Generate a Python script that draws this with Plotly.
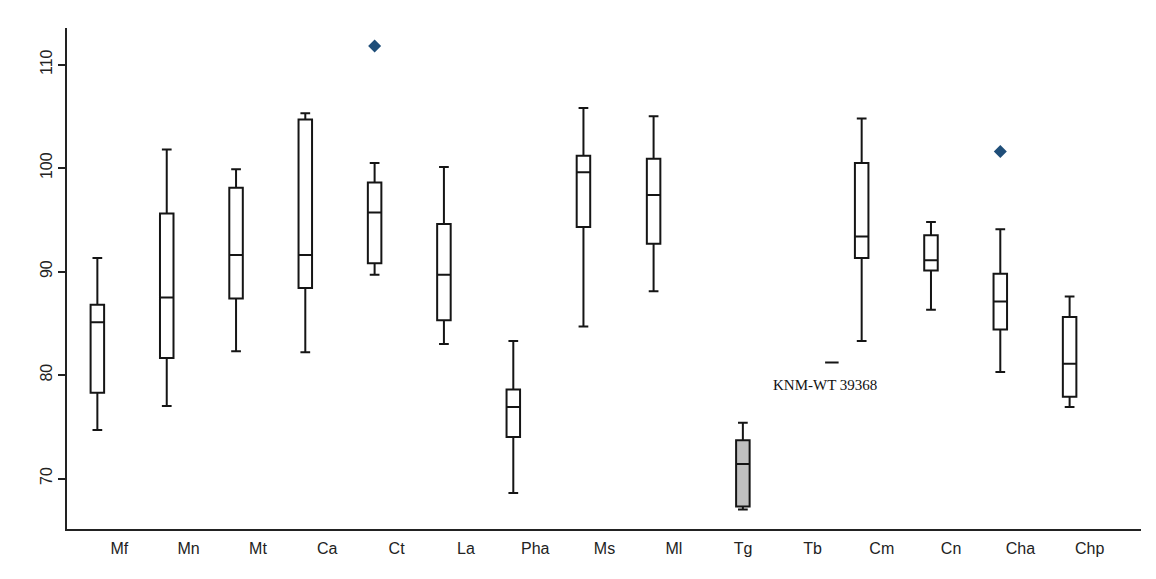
import plotly.graph_objects as go

# ---- data ----
categories = ["Mf", "Mn", "Mt", "Ca", "Ct", "La", "Pha", "Ms", "Ml", "Tg", "Tb", "Cm", "Cn", "Cha", "Chp"]
lower_whisker = [74.7, 77.0, 82.3, 82.2, 89.7, 83.0, 68.6, 84.7, 88.1, 67.0, 81.2, 83.3, 86.3, 80.3, 76.9]
q1_values     = [78.3, 81.65, 87.4, 88.4, 90.8, 85.3, 74.0, 94.3, 92.7, 67.3, 81.2, 91.3, 90.1, 84.4, 77.9]
medians       = [85.1, 87.5, 91.6, 91.6, 95.7, 89.7, 76.9, 99.6, 97.4, 71.4, 81.2, 93.4, 91.1, 87.1, 81.1]
q3_values     = [86.8, 95.6, 98.1, 104.7, 98.6, 94.6, 78.6, 101.2, 100.9, 73.7, 81.2, 100.5, 93.5, 89.8, 85.6]
upper_whisker = [91.3, 101.8, 99.9, 105.3, 100.5, 100.1, 83.3, 105.8, 105.0, 75.4, 81.2, 104.8, 94.8, 94.1, 87.6]
outlier_groups = ["Ct", "Cha"]
outlier_values = [111.8, 101.6]
annotation_text = "KNM-WT 39368"
annotation_value = 79.0
y_ticks = [70, 80, 90, 100, 110]

# ---- layout / positions (not data) ----
box_positions = [-0.317, 0.684, 1.684, 2.683, 3.683, 4.683, 5.684, 6.696, 7.708,
                 8.996, 10.28, 10.71, 11.71, 12.71, 13.71]
fills = ["white"] * len(categories)
fills[categories.index("Tg")] = "#c0c0c0"
pos_of = dict(zip(categories, box_positions))

fig = go.Figure()
for i, c in enumerate(categories):
    fig.add_trace(go.Box(
        x=[box_positions[i]],
        q1=[q1_values[i]], median=[medians[i]], q3=[q3_values[i]],
        lowerfence=[lower_whisker[i]], upperfence=[upper_whisker[i]],
        width=0.195, whiskerwidth=0.72,
        fillcolor=fills[i],
        line=dict(color="#151515", width=2),
        boxpoints=False, showlegend=False, name=c, hoverinfo="skip",
    ))

fig.add_trace(go.Scatter(
    x=[pos_of[g] for g in outlier_groups], y=outlier_values,
    mode="markers",
    marker=dict(symbol="diamond", size=10, color="#1f4e79"),
    showlegend=False, hoverinfo="skip",
))

fig.add_annotation(
    x=10.18, y=annotation_value, text=annotation_text, showarrow=False,
    font=dict(family="Liberation Serif, Times New Roman, serif", size=15, color="#111"),
    xanchor="center", yanchor="middle",
)

# faint page border at top
fig.add_shape(type="line", xref="paper", yref="paper",
              x0=-0.06, x1=1.03, y0=1.0465, y1=1.0465,
              line=dict(color="#e6edf2", width=2))

fig.update_layout(
    width=1148, height=571,
    margin=dict(l=59, r=15, t=20, b=50),
    paper_bgcolor="white", plot_bgcolor="white",
    boxmode="overlay",
    font=dict(family="Liberation Sans, Arial, sans-serif", size=16, color="#222"),
)
fig.update_xaxes(
    range=[-0.755, 14.74],
    tickmode="array", tickvals=list(range(len(categories))), ticktext=categories,
    showline=True, linecolor="#222", linewidth=2,
    ticks="", showgrid=False, zeroline=False,
    ticklabelstandoff=4,
    tickfont=dict(size=16, color="#222"),
)
fig.update_yaxes(
    range=[65.12, 113.54],
    tickmode="array", tickvals=y_ticks, ticktext=[str(t) for t in y_ticks],
    tickangle=-90,
    showline=True, linecolor="#222", linewidth=2,
    ticks="outside", ticklen=7, tickwidth=2, tickcolor="#222",
    showgrid=False, zeroline=False,
    tickfont=dict(size=16, color="#222"),
)

fig.write_html("out.html")
